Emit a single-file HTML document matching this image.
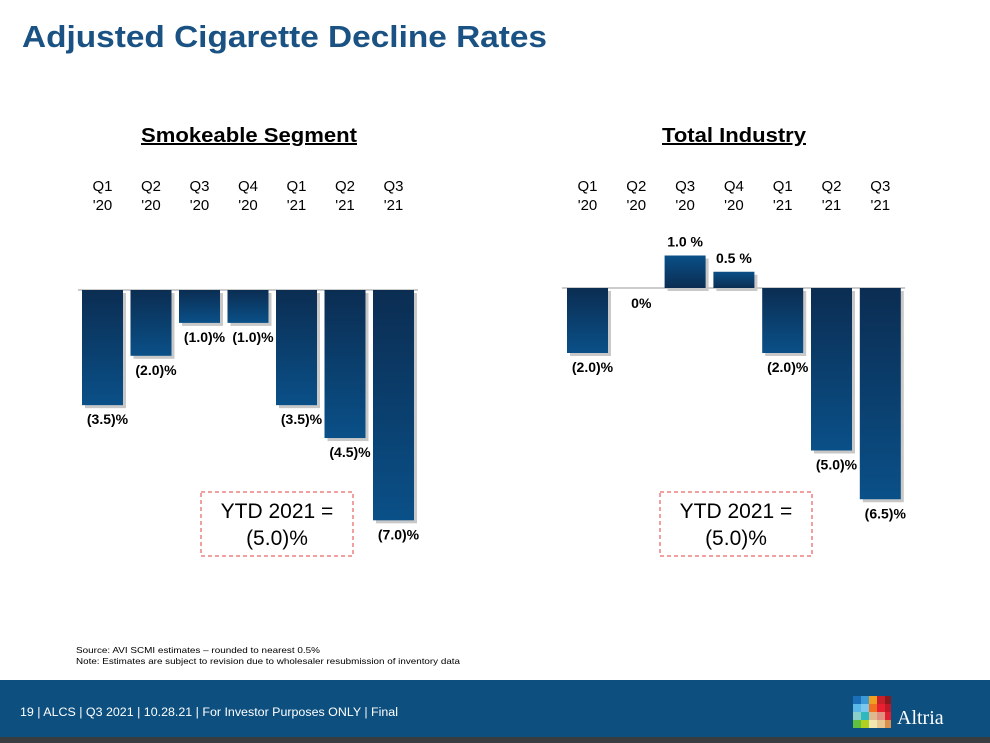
<!DOCTYPE html>
<html><head><meta charset="utf-8"><style>
body{margin:0;width:990px;height:743px;background:#fff;overflow:hidden;font-family:"Liberation Sans",sans-serif;position:relative}
svg{position:absolute;left:0;top:0}
</style></head><body>
<svg width="990" height="743">
<defs>
<linearGradient id="g" x1="0" y1="0" x2="0" y2="1"><stop offset="0" stop-color="#0b2d52"/><stop offset="1" stop-color="#0a5088"/></linearGradient>
<linearGradient id="gp" x1="0" y1="0" x2="0" y2="1"><stop offset="0" stop-color="#0a5088"/><stop offset="1" stop-color="#0b2d52"/></linearGradient>
</defs>
<text x="22" y="47" font-size="31" font-weight="bold" fill="#1a5283" textLength="525" lengthAdjust="spacingAndGlyphs">Adjusted Cigarette Decline Rates</text>
<text x="141" y="142" font-size="20" font-weight="bold" text-decoration="underline" fill="#000" textLength="216" lengthAdjust="spacingAndGlyphs">Smokeable Segment</text>
<text x="662" y="142" font-size="20" font-weight="bold" text-decoration="underline" fill="#000" textLength="144" lengthAdjust="spacingAndGlyphs">Total Industry</text>
<g id="left"></g>
<g id="right"></g>
<rect x="201" y="492" width="152" height="64" fill="none" stroke="#e0403f" stroke-dasharray="4,3"/>
<text x="277" y="518" font-size="21" text-anchor="middle">YTD 2021 =</text>
<text x="277" y="545" font-size="21" text-anchor="middle">(5.0)%</text>
<rect x="660" y="492" width="152" height="64" fill="none" stroke="#e0403f" stroke-dasharray="4,3"/>
<text x="736" y="518" font-size="21" text-anchor="middle">YTD 2021 =</text>
<text x="736" y="545" font-size="21" text-anchor="middle">(5.0)%</text>
<text x="76" y="653" font-size="8.5" textLength="244" lengthAdjust="spacingAndGlyphs">Source: AVI SCMI estimates – rounded to nearest 0.5%</text>
<text x="76" y="664" font-size="8.5" textLength="384" lengthAdjust="spacingAndGlyphs">Note: Estimates are subject to revision due to wholesaler resubmission of inventory data</text>
<rect x="0" y="680" width="990" height="57" fill="#0d4f7f"/>
<rect x="0" y="737" width="990" height="6" fill="#3a3d40"/>
<text x="20" y="716" font-size="11.5" fill="#fff" textLength="378" lengthAdjust="spacingAndGlyphs">19 | ALCS | Q3 2021 | 10.28.21 | For Investor Purposes ONLY | Final</text>
<g>
<rect x="853" y="696" width="8" height="8" fill="#1a6fb8"/><rect x="861" y="696" width="8" height="8" fill="#3a9ad8"/><rect x="869" y="696" width="8" height="8" fill="#f0a020"/><rect x="877" y="696" width="8" height="8" fill="#c8202a"/><rect x="885" y="696" width="6" height="8" fill="#8a1a20"/>
<rect x="853" y="704" width="8" height="8" fill="#5ab8e8"/><rect x="861" y="704" width="8" height="8" fill="#7ac8f0"/><rect x="869" y="704" width="8" height="8" fill="#f07020"/><rect x="877" y="704" width="8" height="8" fill="#e82030"/><rect x="885" y="704" width="6" height="8" fill="#c01828"/>
<rect x="853" y="712" width="8" height="8" fill="#8ad0c8"/><rect x="861" y="712" width="8" height="8" fill="#30b8c0"/><rect x="869" y="712" width="8" height="8" fill="#e0b890"/><rect x="877" y="712" width="8" height="8" fill="#e09080"/><rect x="885" y="712" width="6" height="8" fill="#e02030"/>
<rect x="853" y="720" width="8" height="8" fill="#60c040"/><rect x="861" y="720" width="8" height="8" fill="#b0d020"/><rect x="869" y="720" width="8" height="8" fill="#f0e8b0"/><rect x="877" y="720" width="8" height="8" fill="#e8c890"/><rect x="885" y="720" width="6" height="8" fill="#d89050"/>
<text x="897" y="724" font-size="20" fill="#fff" font-family="Liberation Serif,serif">Altria</text>
</g>
</svg>
<script>
const quarters=["Q1","Q2","Q3","Q4","Q1","Q2","Q3"];
const years=["'20","'20","'20","'20","'21","'21","'21"];
const smokeableValues=[-3.5,-2.0,-1.0,-1.0,-3.5,-4.5,-7.0];
const smokeableLabels=["(3.5)%","(2.0)%","(1.0)%","(1.0)%","(3.5)%","(4.5)%","(7.0)%"];
const industryValues=[-2.0,0,1.0,0.5,-2.0,-5.0,-6.5];
const industryLabels=["(2.0)%","0%","1.0 %","0.5 %","(2.0)%","(5.0)%","(6.5)%"];
const NS="http://www.w3.org/2000/svg";
function mk(t,a,p){const e=document.createElementNS(NS,t);for(const k in a)e.setAttribute(k,a[k]);p.appendChild(e);return e;}
function draw(gid,vals,labels,x0,pitch,base,ppu,axL,axR,prefix){
  const g=document.getElementById(gid);
  const xs=i=>x0+i*pitch, ys=v=>base-v*ppu, bw=41;
  const ax=mk('line',{x1:axL,x2:axR,y1:base,y2:base,stroke:'#bbb','stroke-width':1.5},g);
  
  
  vals.forEach((v,i)=>{
    const cx=xs(i)+bw/2;
    const q=mk('text',{x:cx,y:191,'font-size':15,'text-anchor':'middle'},g);q.textContent=quarters[i];
    
    
    const y=mk('text',{x:cx,y:210,'font-size':15,'text-anchor':'middle'},g);y.textContent=years[i];
    
    
    if(v!==0){
      const top=Math.min(ys(v),base),h=Math.abs(ys(v)-base);
      mk('rect',{x:xs(i)+3,y:top+3,width:bw,height:h,fill:'#c8c8c8'},g);
      const r=mk('rect',{x:xs(i),y:top,width:bw,height:h,fill:v<0?'url(#g)':'url(#gp)'},g);
      
      
    }
    const ly=v<0?ys(v)+19:(v>0?ys(v)-9:base+20);
    const t=mk('text',{x:cx+(v>0?0:5),y:ly,'font-size':14,'font-weight':'bold','text-anchor':'middle'},g);
    t.textContent=labels[i];
    
    
  });
}
draw('left',smokeableValues,smokeableLabels,82,48.5,290,32.9,78,418,'smokeable');
draw('right',industryValues,industryLabels,567,48.8,288,32.5,562,905,'industry');
</script>
</body></html>
